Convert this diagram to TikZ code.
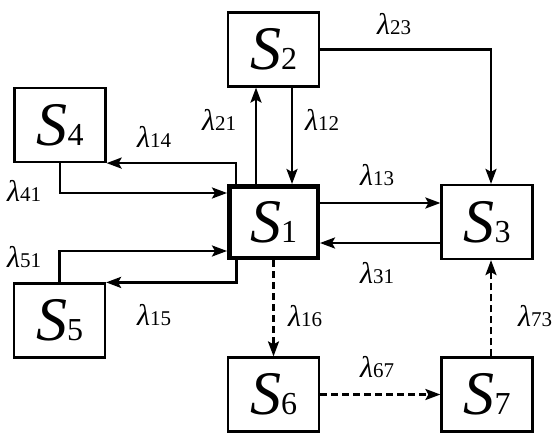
\documentclass[tikz,border=0pt]{standalone}
\usepackage{fontspec}
\setmainfont{Liberation Serif}
\usetikzlibrary{arrows.meta}

% state name: large italic S with a smaller upright index
\newcommand{\stname}[1]{{\fontsize{62pt}{62pt}\selectfont\rmfamily\itshape S}{\fontsize{32pt}{32pt}\selectfont\rmfamily\upshape #1}}
% transition rate label
\newcommand{\ratelab}[1]{{\fontsize{30pt}{30pt}\selectfont\rmfamily\itshape λ}{\fontsize{21pt}{21pt}\selectfont\rmfamily\upshape #1}}

\begin{document}
\begin{tikzpicture}[x=1pt,y=-1pt,font=\rmfamily,
  state/.style={draw, line width=2.2pt, minimum width=91pt, minimum height=74pt, inner sep=0pt},
  mainstate/.style={state, line width=4.5pt, minimum width=88.5pt, minimum height=71.5pt},
  flow/.style={line width=2.5pt, -{Stealth[length=15pt,width=11pt,inset=3pt]}},
  altflow/.style={flow, dash pattern=on 7pt off 4pt},
  rate/.style={anchor=base west, inner sep=0pt}]
  \useasboundingbox (0,0) rectangle (559,433);

  % states
  \node[mainstate] (S1) at (273.5,222) {\stname{1}};
  \node[state] (S2) at (273.5,49.5) {\stname{2}};
  \node[state] (S3) at (487,222) {\stname{3}};
  \node[state] (S4) at (60,125) {\stname{4}};
  \node[state] (S5) at (59.5,320.5) {\stname{5}};
  \node[state] (S6) at (273.5,394.5) {\stname{6}};
  \node[state] (S7) at (487,394.5) {\stname{7}};

  % solid transitions
  \draw[flow] ([xshift=-17.5pt]S1.north) -- ([xshift=-17.5pt]S2.south);
  \draw[flow] ([xshift=18.5pt]S2.south) -- ([xshift=18.5pt]S1.north);
  \draw[flow] (S2.east) -| ([xshift=4pt]S3.north);
  \draw[flow] ([yshift=19pt]S1.east) -- ([yshift=19pt]S3.west);
  \draw[flow] ([yshift=-21pt]S3.west) -- ([yshift=-21pt]S1.east);
  \draw[flow] ([xshift=-37.5pt]S1.north) |- (S4.south east);
  \draw[flow] (S4.south) |- ([yshift=29pt]S1.west);
  \draw[flow] (S5.north) |- ([yshift=-29pt]S1.west);
  \draw[flow] ([xshift=-37pt]S1.south) |- (S5.north east);

  % dashed transitions
  \draw[altflow] (S1.south) -- (S6.north);
  \draw[altflow] (S6.east) -- (S7.west);
  \draw[altflow] ([xshift=4pt]S7.north) -- ([xshift=4pt]S3.south);

  % rate labels
  \node[rate] (l21) at (202,130) {\ratelab{21}};
  \node[rate] (l12) at (305,130) {\ratelab{12}};
  \node[rate] (l23) at (377,35) {\ratelab{23}};
  \node[rate] (l14) at (137,147) {\ratelab{14}};
  \node[rate] (l41) at (7,201) {\ratelab{41}};
  \node[rate] (l13) at (360,185) {\ratelab{13}};
  \node[rate] (l31) at (360,283) {\ratelab{31}};
  \node[rate] (l51) at (7,267) {\ratelab{51}};
  \node[rate] (l15) at (137,325) {\ratelab{15}};
  \node[rate] (l16) at (288,326) {\ratelab{16}};
  \node[rate] (l73) at (518,326) {\ratelab{73}};
  \node[rate] (l67) at (360,377) {\ratelab{67}};
\end{tikzpicture}
\end{document}
